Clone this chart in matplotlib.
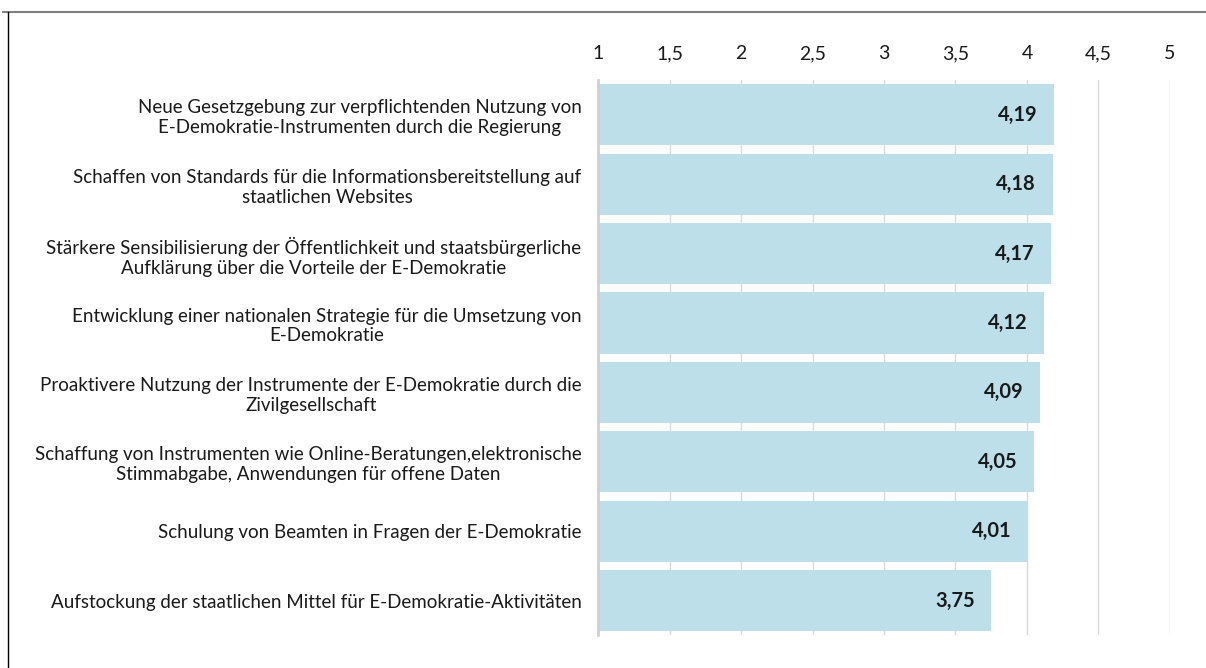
import matplotlib
matplotlib.use('Agg')
import matplotlib.pyplot as plt
from matplotlib.ticker import FuncFormatter
from matplotlib.lines import Line2D

plt.rcParams['font.family'] = ['Lato', 'DejaVu Sans']

# Daten
categories = [
    'Neue Gesetzgebung zur verpflichtenden Nutzung von\nE-Demokratie-Instrumenten durch die Regierung',
    'Schaffen von Standards für die Informationsbereitstellung auf\nstaatlichen Websites',
    'Stärkere Sensibilisierung der Öffentlichkeit und staatsbürgerliche\nAufklärung über die Vorteile der E-Demokratie',
    'Entwicklung einer nationalen Strategie für die Umsetzung von\nE-Demokratie',
    'Proaktivere Nutzung der Instrumente der E-Demokratie durch die\nZivilgesellschaft',
    'Schaffung von Instrumenten wie Online-Beratungen,elektronische\nStimmabgabe, Anwendungen für offene Daten',
    'Schulung von Beamten in Fragen der E-Demokratie',
    'Aufstockung der staatlichen Mittel für E-Demokratie-Aktivitäten',
]
values = [4.19, 4.18, 4.17, 4.12, 4.09, 4.05, 4.01, 3.75]
xticks = [1, 1.5, 2, 2.5, 3, 3.5, 4, 4.5, 5]

fig = plt.figure(figsize=(12.06, 6.68), dpi=100)
ax = fig.add_axes([0.496, 0.049, 0.474, 0.831])

y = range(len(categories))
ax.barh(y, [v - 1 for v in values], left=1, height=0.88, color='#bcdfea', zorder=2)

for i, v in enumerate(values):
    ax.annotate(f'{v:.2f}'.replace('.', ','), xy=(v, i), xytext=(-12, 0),
                textcoords='offset points', ha='right', va='center',
                fontsize=14.5, fontweight='bold', color='#1a1a1a', zorder=3)

ax.set_xlim(1, 5)
ax.set_ylim(len(categories) - 0.5, -0.5)
ax.set_xticks(xticks)
ax.xaxis.set_major_formatter(FuncFormatter(lambda x, p: f'{x:g}'.replace('.', ',')))
ax.xaxis.tick_top()
ax.tick_params(axis='x', length=0, pad=13, labelsize=14, colors='#1a1a1a')
ax.set_yticks(list(y))
ax.set_yticklabels(categories, fontsize=13.5, multialignment='center')
ax.tick_params(axis='y', length=0, pad=12, colors='#1a1a1a')

ax.grid(True, axis='x', color='#d9d9d9', linewidth=1, zorder=0)
for s in ['top', 'right', 'bottom']:
    ax.spines[s].set_visible(False)
ax.spines['left'].set_color('#d0d0d0')
ax.spines['left'].set_linewidth(2)
ax.spines['left'].set_zorder(4)

# Rahmen
fig.add_artist(Line2D([3 / 1206, 1], [1 - 12 / 668, 1 - 12 / 668], color='#808080', linewidth=1.5))
fig.add_artist(Line2D([8 / 1206, 8 / 1206], [0, 1 - 12 / 668], color='black', linewidth=1))

fig.savefig('out.png', dpi=100)
